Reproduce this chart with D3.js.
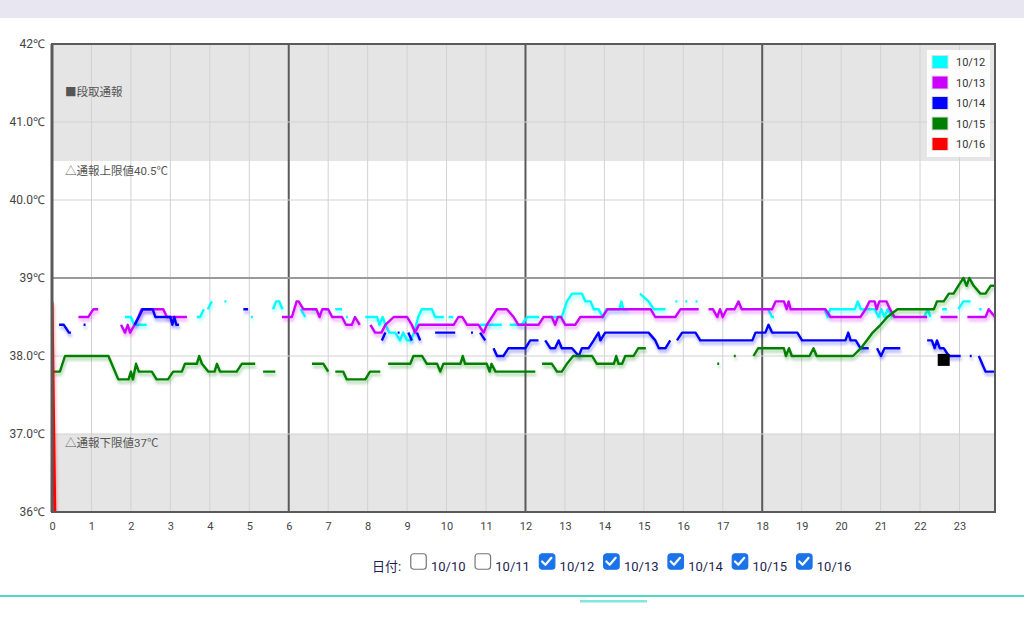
<!DOCTYPE html>
<html><head><meta charset="utf-8">
<script src="https://cdn.jsdelivr.net/npm/d3@7/dist/d3.min.js"></script>
<style>
html,body{margin:0;padding:0;background:#fff;}
svg{display:block;font-family:Roboto,"Noto Sans CJK JP",sans-serif;}
</style></head>
<body>
<svg id="c" width="1024" height="640"></svg>
<script>
// ---- data (hour, °C); null = gap ----
const hourTicks = d3.range(0, 24);
const yTickValues = [42, 41, 40, 39, 38, 37, 36];
const yTickLabels = ["42℃", "41.0℃", "40.0℃", "39℃", "38.0℃", "37.0℃", "36℃"];
const seriesNames = ["10/12", "10/13", "10/14", "10/15", "10/16"];
const seriesColors = ["#00ffff", "#cc00ff", "#0000ff", "#008000", "#ff0000"];
const dateLabels = ["10/10", "10/11", "10/12", "10/13", "10/14", "10/15", "10/16"];
const dateChecked = [false, false, true, true, true, true, true];
const bandLabels = ["■段取通報", "△通報上限値40.5℃", "△通報下限値37℃"];
const bandLabelValues = [41.33, 40.32, 36.83];
const upperLimit = 40.5, lowerLimit = 37;
const currentMark = [22.6, 37.95];

const s1012 = [[1.85,38.5],[2.0,38.5],[2.08,38.4],[2.4,38.4],null,
 [3.67,38.5],[3.75,38.5],[3.85,38.6],null,[3.95,38.6],[4.05,38.7],null,
 [4.37,38.7],[4.42,38.7],null,[5.04,38.5],[5.09,38.5],null,
 [5.6,38.6],[5.68,38.7],[5.76,38.7],[5.84,38.6],null,
 [6.3,38.6],[6.42,38.5],null,[6.59,38.6],[6.71,38.6],null,[6.95,38.6],[7.0,38.6],null,
 [7.18,38.6],[7.35,38.6],null,[7.45,38.5],[7.5,38.5],null,
 [7.94,38.5],[8.24,38.5],[8.3,38.4],[8.38,38.5],[8.45,38.4],[8.55,38.3],[8.7,38.3],[8.82,38.2],[8.9,38.3],[9.0,38.2],[9.08,38.2],
 [9.18,38.3],[9.28,38.5],[9.37,38.6],[9.63,38.6],[9.71,38.5],[9.93,38.5],null,
 [10.05,38.5],[10.17,38.5],null,[10.85,38.4],[11.4,38.4],null,
 [11.6,38.4],[11.9,38.4],[12.05,38.5],[12.35,38.5],null,
 [12.6,38.5],[12.92,38.5],[13.05,38.7],[13.18,38.8],[13.43,38.8],[13.52,38.7],[13.65,38.7],[13.73,38.6],[13.85,38.6],[13.96,38.5],[14.05,38.6],
 [14.38,38.6],[14.43,38.7],[14.48,38.6],[14.6,38.6],null,
 [14.9,38.8],[15.12,38.7],[15.25,38.6],[15.55,38.6],null,
 [15.8,38.7],[15.85,38.7],null,[16.05,38.7],[16.1,38.7],null,[16.31,38.7],[16.36,38.7],null,
 [18.15,38.6],[18.25,38.5],[18.3,38.5],null,
 [19.58,38.6],[19.66,38.5],[19.72,38.6],[20.35,38.6],[20.42,38.7],[20.5,38.6],[20.85,38.6],[20.95,38.5],[21.02,38.6],[21.1,38.5],[21.18,38.6],[21.3,38.5],null,
 [22.1,38.5],[22.2,38.6],[22.26,38.5],null,[22.56,38.6],[22.68,38.6],null,
 [22.97,38.6],[23.1,38.7],[23.28,38.7],null,[23.5,38.6],[23.56,38.6]];

const s1013 = [[0.67,38.5],[0.92,38.5],[1.05,38.6],[1.17,38.6],null,
 [1.75,38.4],[1.85,38.3],[1.92,38.4],[1.98,38.3],[2.09,38.4],[2.19,38.5],[2.27,38.6],[2.82,38.6],[2.91,38.5],[3.42,38.5],null,
 [5.83,38.5],[6.08,38.5],[6.2,38.7],[6.25,38.7],[6.37,38.6],[6.7,38.6],[6.78,38.5],[6.85,38.6],[7.0,38.6],[7.1,38.5],[7.35,38.5],[7.45,38.4],[7.6,38.4],[7.68,38.5],[7.8,38.4],null,
 [8.07,38.4],[8.19,38.3],[8.35,38.3],[8.45,38.4],[8.66,38.5],[9.0,38.5],[9.12,38.4],[9.2,38.3],[9.3,38.4],[10.18,38.4],[10.3,38.5],[10.4,38.5],[10.52,38.4],
 [10.81,38.4],[10.94,38.3],[11.02,38.4],[11.15,38.5],[11.28,38.6],[11.53,38.6],[11.7,38.5],[11.82,38.4],[12.33,38.4],[12.46,38.5],[12.67,38.5],[12.75,38.4],
 [12.82,38.5],[12.9,38.5],[13.01,38.4],[13.26,38.4],[13.39,38.5],[13.95,38.5],[14.08,38.6],[15.17,38.6],[15.29,38.5],[15.8,38.5],[15.93,38.6],[16.39,38.6],null,
 [16.64,38.6],[16.75,38.6],[16.86,38.5],[16.93,38.6],[17.0,38.5],[17.1,38.6],[17.3,38.6],[17.4,38.7],[17.48,38.6],[18.25,38.6],[18.34,38.7],[18.55,38.7],
 [18.62,38.6],[18.67,38.7],[18.72,38.6],[19.6,38.6],[19.73,38.5],[20.49,38.5],[20.62,38.6],[20.72,38.7],[20.85,38.7],[20.9,38.6],[20.97,38.7],[21.15,38.7],
 [21.24,38.6],[21.35,38.5],[22.18,38.5],null,[22.52,38.5],[22.95,38.5],null,
 [23.2,38.5],[23.66,38.5],[23.74,38.6],[23.9,38.5]];

const s1014 = [[0.18,38.4],[0.3,38.4],[0.43,38.3],[0.48,38.3],null,[0.8,38.4],[0.85,38.4],null,
 [2.1,38.4],[2.2,38.5],[2.3,38.6],[2.55,38.6],[2.62,38.5],[3.0,38.5],[3.05,38.4],[3.1,38.5],[3.15,38.4],[3.22,38.4],null,
 [4.85,38.6],[4.97,38.6],null,[8.36,38.2],[8.45,38.3],null,[8.76,38.3],[8.81,38.3],null,
 [9.03,38.3],[9.12,38.2],null,[9.25,38.3],[9.33,38.2],null,[9.71,38.3],[10.22,38.3],null,
 [10.62,38.3],[10.67,38.3],null,[10.85,38.3],[10.98,38.2],null,
 [11.19,38.1],[11.28,38.0],[11.44,38.0],[11.57,38.1],[12.0,38.1],[12.12,38.2],[12.33,38.2],null,
 [12.5,38.2],[12.63,38.1],[12.75,38.1],[12.84,38.2],[12.92,38.1],[13.18,38.1],[13.35,38.0],[13.43,38.1],[13.6,38.1],[13.73,38.2],
 [13.85,38.3],[13.9,38.2],[14.02,38.3],[15.12,38.3],[15.29,38.2],[15.38,38.1],[15.55,38.1],[15.67,38.2],null,
 [15.84,38.2],[15.97,38.3],[16.31,38.3],[16.43,38.2],[17.75,38.2],[17.83,38.3],[18.08,38.3],[18.16,38.4],[18.25,38.3],[18.89,38.3],
 [19.01,38.2],[20.11,38.2],[20.18,38.3],[20.24,38.2],[20.37,38.2],[20.49,38.1],[20.7,38.1],null,
 [20.91,38.1],[21.01,38.0],[21.1,38.1],[21.5,38.1],null,
 [22.18,38.2],[22.3,38.2],[22.37,38.1],[22.43,38.2],[22.5,38.1],[22.6,38.1],[22.73,38.0],[23.03,38.0],null,
 [23.26,38.0],[23.31,38.0],null,[23.49,38.0],[23.66,37.8],[23.9,37.8]];

const s1015 = [[0.03,37.8],[0.2,37.8],[0.33,38.0],[1.43,38.0],[1.68,37.7],[1.94,37.7],[2.0,37.8],[2.05,37.7],[2.13,37.9],[2.2,37.8],
 [2.53,37.8],[2.65,37.7],[2.94,37.7],[3.07,37.8],[3.29,37.8],[3.37,37.9],[3.67,37.9],[3.73,38.0],[3.8,37.9],[3.96,37.8],[4.12,37.8],
 [4.18,37.9],[4.26,37.8],[4.68,37.8],[4.81,37.9],[5.15,37.9],null,[5.35,37.8],[5.66,37.8],null,
 [6.59,37.9],[6.88,37.9],[7.0,37.8],null,[7.18,37.8],[7.38,37.8],[7.47,37.7],[7.94,37.7],[8.06,37.8],[8.32,37.8],null,
 [8.52,37.9],[9.08,37.9],[9.16,38.0],[9.38,38.0],[9.5,37.9],[9.76,37.9],[9.84,37.8],[9.92,37.9],[10.35,37.9],[10.41,38.0],[10.47,37.9],
 [11.02,37.9],[11.09,37.8],[11.14,37.9],[11.24,37.8],[12.25,37.8],null,
 [12.42,37.9],[12.67,37.9],[12.8,37.8],[12.92,37.8],[13.05,37.9],[13.21,38.0],[13.69,38.0],[13.81,37.9],[14.24,37.9],[14.3,38.0],
 [14.36,37.9],[14.45,37.9],[14.53,38.0],[14.74,38.0],[14.86,38.1],[15.05,38.1],null,
 [16.86,37.9],[16.91,37.9],null,[17.28,38.0],[17.33,38.0],null,
 [17.78,38.0],[17.9,38.1],[18.55,38.1],[18.6,38.0],[18.68,38.1],[18.75,38.0],[19.2,38.0],[19.3,38.1],[19.38,38.0],[20.3,38.0],
 [20.5,38.1],[20.65,38.2],[20.8,38.3],[21.0,38.4],[21.17,38.5],[21.43,38.6],[22.35,38.6],[22.43,38.7],[22.6,38.7],[22.73,38.8],
 [22.85,38.8],[22.97,38.9],[23.1,39.0],[23.18,38.9],[23.25,39.0],[23.36,38.9],[23.53,38.8],[23.66,38.8],[23.79,38.9],[23.9,38.9]];

const s1016 = [[0.0,38.7],[0.07,36.0]];

const seriesData = [s1012, s1013, s1014, s1015, s1016];

// ---- drawing ----
const svg = d3.select("#c");
const L = 52, R = 995, T = 44, B = 512;
const x = d3.scaleLinear().domain([0, 23.9]).range([L, R]);
const y = d3.scaleLinear().domain([36, 42]).range([B, T]);

// page chrome
svg.append("rect").attr("x",0).attr("y",0).attr("width",1024).attr("height",18).attr("fill","#e8e6f0");
svg.append("line").attr("x1",0).attr("x2",1024).attr("y1",596).attr("y2",596).attr("stroke","#4fd8c8").attr("stroke-width",2);
svg.append("rect").attr("x",580).attr("y",600).attr("width",67).attr("height",2.5).attr("fill","#82e6dd");

const defs = svg.append("defs");
const f = defs.append("filter").attr("id","sh").attr("filterUnits","userSpaceOnUse")
  .attr("x",0).attr("y",0).attr("width",1024).attr("height",640);
f.append("feGaussianBlur").attr("in","SourceGraphic").attr("stdDeviation",1.5).attr("result","b");
f.append("feOffset").attr("in","b").attr("dx",1).attr("dy",3).attr("result","o");
f.append("feComponentTransfer").attr("in","o").attr("result","t")
  .append("feFuncA").attr("type","linear").attr("slope",0.35);
const m = f.append("feMerge");
m.append("feMergeNode").attr("in","t");
m.append("feMergeNode").attr("in","SourceGraphic");
defs.append("clipPath").attr("id","clip").append("rect")
  .attr("x",L).attr("y",T).attr("width",R-L).attr("height",B-T);

// bands
svg.append("rect").attr("x",L).attr("width",R-L).attr("y",y(42)).attr("height",y(upperLimit)-y(42)).attr("fill","#e5e5e5");
svg.append("rect").attr("x",L).attr("width",R-L).attr("y",y(lowerLimit)).attr("height",y(36)-y(lowerLimit)).attr("fill","#e5e5e5");

// grid
const g = svg.append("g");
g.selectAll("line.v").data(hourTicks.filter(h => h > 0)).join("line")
  .attr("x1", d => x(d)).attr("x2", d => x(d)).attr("y1", T).attr("y2", B)
  .attr("stroke", d => d % 6 === 0 ? "#5a5a5a" : "#d2d2d2")
  .attr("stroke-width", d => d % 6 === 0 ? 2 : 1);
g.selectAll("line.h").data([41, 40, 39, 38, 37]).join("line")
  .attr("x1", L).attr("x2", R).attr("y1", d => y(d)).attr("y2", d => y(d))
  .attr("stroke", d => d === 39 ? "#9a9a9a" : "#d2d2d2")
  .attr("stroke-width", d => d === 39 ? 2 : 1);

// band labels
svg.selectAll("text.bl").data(bandLabels).join("text")
  .attr("x", 65).attr("y", (d, i) => y(bandLabelValues[i]))
  .attr("font-size", 11.5).attr("fill", "#555").text(d => d);

// axes
const yAxis = svg.append("g").attr("transform", `translate(${L},0)`)
  .call(d3.axisLeft(y).tickValues(yTickValues).tickSize(0).tickPadding(7)
    .tickFormat((d, i) => yTickLabels[i]));
yAxis.select(".domain").remove();
yAxis.selectAll("text").attr("font-size", 12).attr("fill", "#444")
  .attr("font-family", "Roboto, sans-serif");

const xAxis = svg.append("g").attr("transform", `translate(0,${B})`)
  .call(d3.axisBottom(x).tickValues(hourTicks).tickSize(0).tickPadding(10)
    .tickFormat(d => String(d)));
xAxis.select(".domain").remove();
xAxis.selectAll("text").attr("font-size", 11).attr("fill", "#444")
  .attr("font-family", "Roboto, sans-serif");

// lines
const line = d3.line().defined(d => d !== null).x(d => x(d[0])).y(d => y(d[1]));
const lg = svg.append("g").attr("clip-path", "url(#clip)");
seriesData.forEach((s, i) => {
  lg.append("path").datum(s).attr("d", line)
    .attr("fill", "none").attr("stroke", seriesColors[i])
    .attr("stroke-width", i === 4 ? 3 : 2.4).attr("stroke-linejoin", "round")
    .attr("filter", "url(#sh)");
});

// current marker
svg.append("rect").attr("x", x(currentMark[0]) - 6).attr("y", y(currentMark[1]) - 6)
  .attr("width", 12).attr("height", 12).attr("fill", "#000");

// frame
svg.append("rect").attr("x", L).attr("y", T).attr("width", R - L).attr("height", B - T)
  .attr("fill", "none").attr("stroke", "#5a5a5a").attr("stroke-width", 2);
svg.append("line").attr("x1", L).attr("x2", L).attr("y1", T).attr("y2", B)
  .attr("stroke", "#5a5a5a").attr("stroke-width", 3);

// legend
const leg = svg.append("g");
leg.append("rect").attr("x", 927).attr("y", 50).attr("width", 63).attr("height", 107)
  .attr("fill", "#fff").attr("fill-opacity", 0.92);
const li = leg.selectAll("g.it").data(seriesNames).join("g")
  .attr("transform", (d, i) => `translate(932,${62 + i * 20.5})`);
li.append("rect").attr("x", 0).attr("y", -6.5).attr("width", 16).attr("height", 13)
  .attr("fill", (d, i) => seriesColors[i]).attr("stroke", "#ddd").attr("stroke-width", 1);
li.append("text").attr("x", 24).attr("y", 4).attr("font-size", 11).attr("fill", "#333").text(d => d);

// date checkboxes
const bt = svg.append("g").attr("font-size", 13).attr("fill", "#1e1e52");
bt.append("text").attr("x", 372).attr("y", 571).text("日付:");
const cb = bt.selectAll("g.cb").data(dateLabels).join("g")
  .attr("transform", (d, i) => `translate(${410 + i * 64.3},553)`);
cb.append("rect").attr("x", 0.75).attr("y", 0.75).attr("width", 15.5).attr("height", 15.5).attr("rx", 3)
  .attr("fill", (d, i) => dateChecked[i] ? "#1a73e8" : "#fff")
  .attr("stroke", (d, i) => dateChecked[i] ? "#1a73e8" : "#767676").attr("stroke-width", 1.2);
cb.filter((d, i) => dateChecked[i]).append("path").attr("d", "M3.5 8.5 L6.8 11.8 L12.8 4.8")
  .attr("fill", "none").attr("stroke", "#fff").attr("stroke-width", 2.2).attr("stroke-linecap", "round").attr("stroke-linejoin", "round");
cb.append("text").attr("x", 21).attr("y", 18).text(d => d);
</script>
</body></html>
